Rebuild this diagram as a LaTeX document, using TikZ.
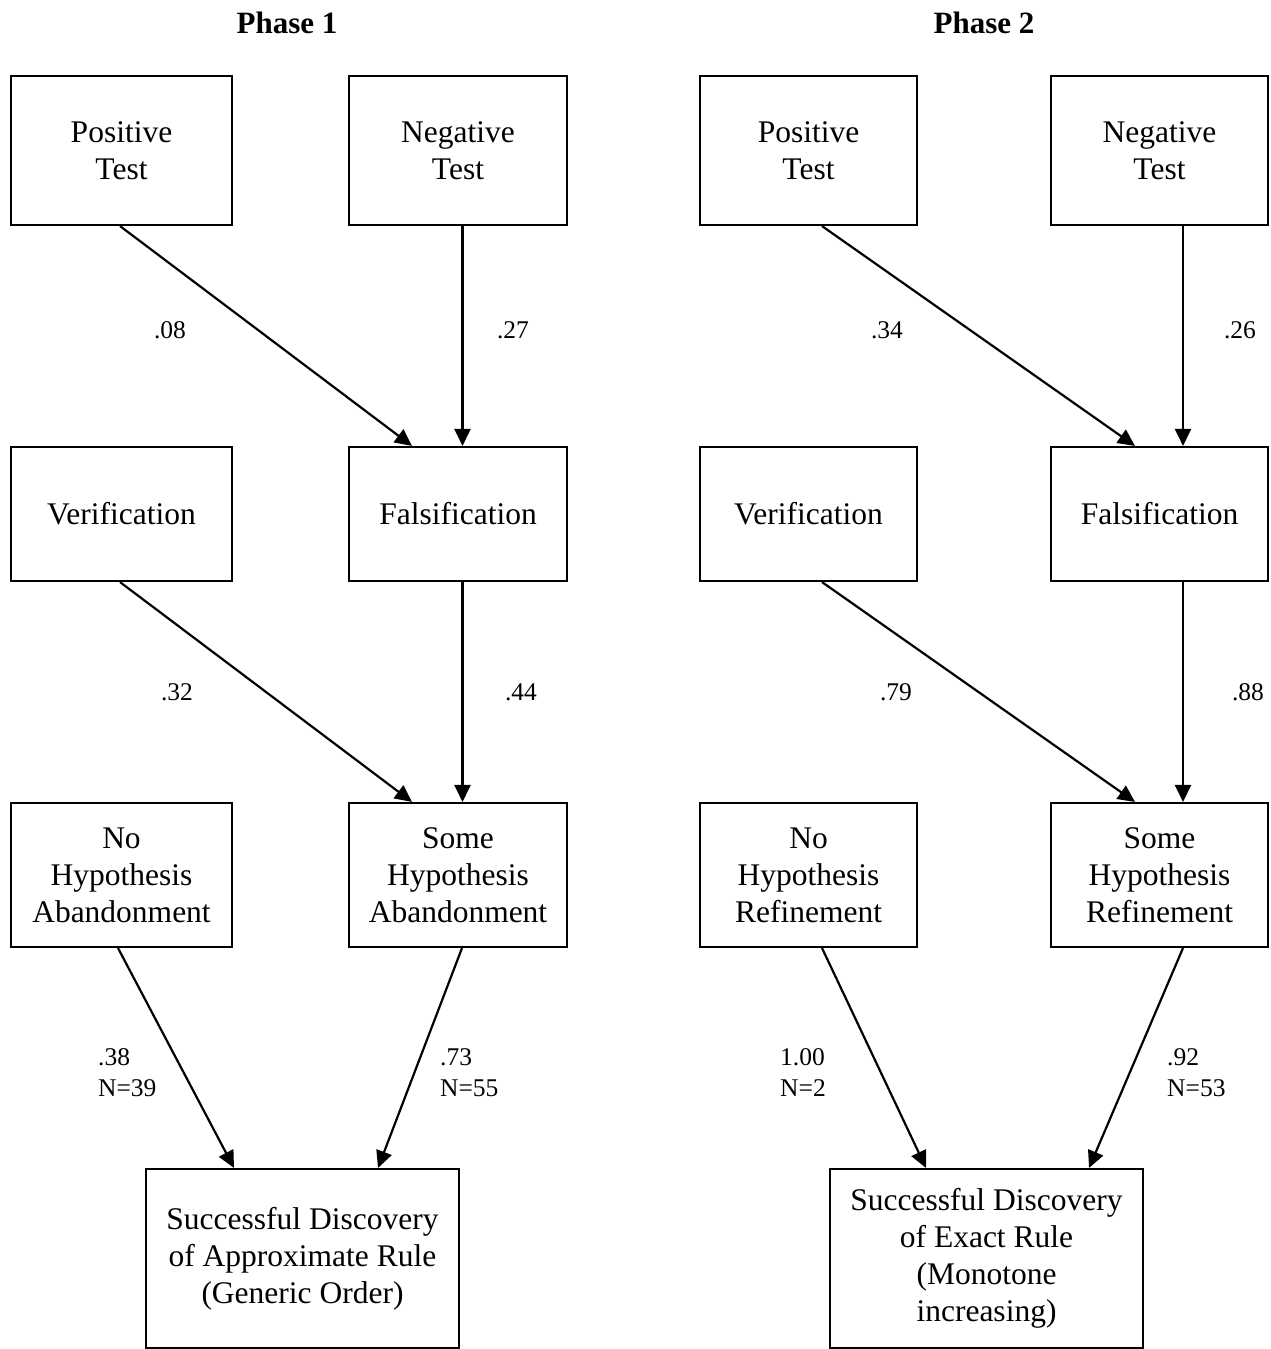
\documentclass[tikz,border=0pt]{standalone}
\usepackage{fontspec}
\setmainfont{Liberation Serif}
\usetikzlibrary{arrows.meta}
\begin{document}
\begin{tikzpicture}[x=1pt,y=-1pt,
  box/.style={draw, line width=2.1pt, rectangle, inner sep=0pt, align=center,
    font=\fontsize{31.5}{37}\selectfont},
  colA/.style={minimum width=221pt},
  colB/.style={minimum width=218pt},
  colC/.style={minimum width=217pt},
  rowone/.style={minimum height=149pt},
  rowtwo/.style={minimum height=134pt},
  rowthree/.style={minimum height=144pt},
  finalbox/.style={minimum width=313pt, minimum height=179pt},
  lab/.style={font=\fontsize{25.5}{31}\selectfont, inner sep=0pt},
  labl/.style={lab, anchor=west, align=left},
  title/.style={font=\fontsize{31}{37}\selectfont\bfseries, inner sep=0pt},
  arr/.style={line width=2.2pt, -{Triangle[length=17pt,width=16pt]}}
]
\useasboundingbox (0,0) rectangle (1270,1349);

% titles
\node[title] (t1) at (287,23) {Phase 1};
\node[title] (t2) at (984,23) {Phase 2};

% Phase 1 boxes
\node[box,colA,rowone] (pos1) at (121.5,150.5) {Positive\\Test};
\node[box,colB,rowone] (neg1) at (458,150.5) {Negative\\Test};
\node[box,colA,rowtwo] (ver1) at (121.5,514) {Verification};
\node[box,colB,rowtwo] (fal1) at (458,514) {Falsification};
\node[box,colA,rowthree] (noh1) at (121.5,875) {No\\Hypothesis\\Abandonment};
\node[box,colB,rowthree] (som1) at (458,875) {Some\\Hypothesis\\Abandonment};
\node[box,finalbox] (fin1) at (302.5,1258.5) {Successful Discovery\\of Approximate Rule\\(Generic Order)};

% Phase 2 boxes
\node[box,colC,rowone] (pos2) at (808.5,150.5) {Positive\\Test};
\node[box,colC,rowone] (neg2) at (1159.5,150.5) {Negative\\Test};
\node[box,colC,rowtwo] (ver2) at (808.5,514) {Verification};
\node[box,colC,rowtwo] (fal2) at (1159.5,514) {Falsification};
\node[box,colC,rowthree] (noh2) at (808.5,875) {No\\Hypothesis\\Refinement};
\node[box,colC,rowthree] (som2) at (1159.5,875) {Some\\Hypothesis\\Refinement};
\node[box,finalbox] (fin2) at (986.5,1258.5) {Successful Discovery\\of Exact Rule\\(Monotone\\increasing)};

% Phase 1 arrows
\draw[arr] ([xshift=-1.5pt]pos1.south) -- ([xshift=-46pt]fal1.north);
\draw[arr] ([xshift=4.5pt]neg1.south) -- ([xshift=4.5pt]fal1.north);
\draw[arr] ([xshift=-1.5pt]ver1.south) -- ([xshift=-46pt]som1.north);
\draw[arr] ([xshift=4.5pt]fal1.south) -- ([xshift=4.5pt]som1.north);
\draw[arr] ([xshift=-3.5pt]noh1.south) -- ([xshift=-68.5pt]fin1.north);
\draw[arr] ([xshift=4pt]som1.south) -- ([xshift=75.5pt]fin1.north);

% Phase 2 arrows
\draw[arr] ([xshift=13.5pt]pos2.south) -- ([xshift=-24.5pt]fal2.north);
\draw[arr] ([xshift=23.5pt]neg2.south) -- ([xshift=23.5pt]fal2.north);
\draw[arr] ([xshift=13.5pt]ver2.south) -- ([xshift=-24.5pt]som2.north);
\draw[arr] ([xshift=23.5pt]fal2.south) -- ([xshift=23.5pt]som2.north);
\draw[arr] ([xshift=13.5pt]noh2.south) -- ([xshift=-60.5pt]fin2.north);
\draw[arr] ([xshift=23.5pt]som2.south) -- ([xshift=102.5pt]fin2.north);

% Phase 1 labels
\node[lab] (l108) at (170,330) {.08};
\node[lab] (l127) at (513,330) {.27};
\node[lab] (l132) at (177,692) {.32};
\node[lab] (l144) at (521,692) {.44};
\node[labl] (l138) at (98,1073) {.38\\N=39};
\node[labl] (l173) at (440,1073) {.73\\N=55};

% Phase 2 labels
\node[lab] (l234) at (887,330) {.34};
\node[lab] (l226) at (1240,330) {.26};
\node[lab] (l279) at (896,692) {.79};
\node[lab] (l288) at (1248,692) {.88};
\node[labl] (l2100) at (780,1073) {1.00\\N=2};
\node[labl] (l292) at (1167,1073) {.92\\N=53};
\end{tikzpicture}
\end{document}
